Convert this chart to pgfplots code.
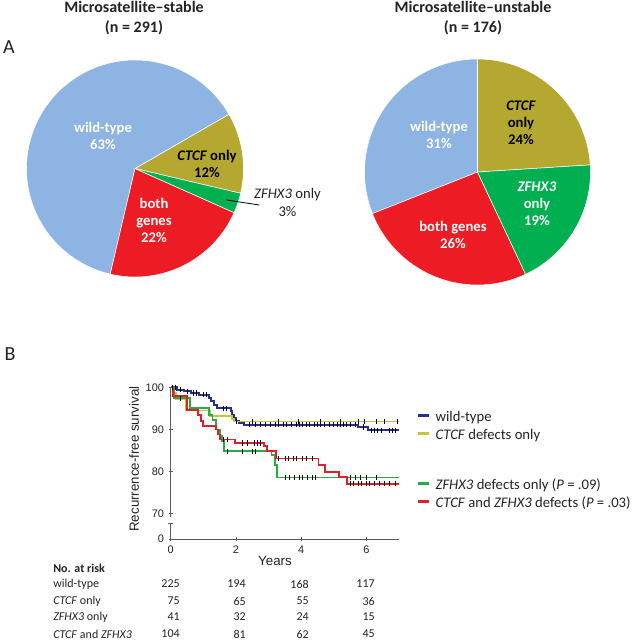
\documentclass[border=0pt]{standalone}
\usepackage{pgfplots}
\pgfplotsset{compat=1.18}
\usepackage{fontspec}
\setmainfont{Carlito}
\newfontfamily\arialf{Liberation Sans}
\definecolor{pieblue}{RGB}{141,180,226}
\definecolor{pieolive}{RGB}{181,168,48}
\definecolor{piegreen}{RGB}{0,176,80}
\definecolor{piered}{RGB}{237,28,36}
\definecolor{kmblue}{RGB}{38,48,140}
\definecolor{kmyellow}{RGB}{200,196,60}
\definecolor{kmgreen}{RGB}{40,170,70}
\definecolor{kmred}{RGB}{222,32,40}
\definecolor{axgray}{RGB}{90,90,90}
\definecolor{txt}{RGB}{35,35,35}
% slice: from pct, to pct, colour, start angle offset, radius
\newcommand{\slice}[5]{%
  \fill[#3, draw=white, line width=0.4pt] (axis cs:0,0) -- ++({#4+3.6*#1}:#5)
    arc[start angle={#4+3.6*#1}, end angle={#4+3.6*#2}, radius=#5] -- cycle;}
\begin{document}
\begin{tikzpicture}
% ---------------- Pie 1: microsatellite-stable ----------------
\begin{axis}[at={(101.25pt,-126.375pt)}, anchor=center, scale only axis,
  width=162.75pt, height=162.75pt, xmin=-1, xmax=1, ymin=-1, ymax=1,
  hide axis, clip=false]
% percentages: CTCF only 12, wild-type 63, both genes 22, ZFHX3 only 3
\slice{0}{12}{pieolive}{-13.2}{81.375pt}
\slice{12}{75}{pieblue}{-13.2}{81.375pt}
\slice{75}{97}{piered}{-13.2}{81.375pt}
\slice{97}{100}{piegreen}{-13.2}{81.375pt}
\end{axis}
% ---------------- Pie 2: microsatellite-unstable ----------------
\begin{axis}[at={(358.125pt,-129pt)}, anchor=center, scale only axis,
  width=169.5pt, height=169.5pt, xmin=-1, xmax=1, ymin=-1, ymax=1,
  hide axis, clip=false]
% percentages: CTCF only 24, wild-type 31, both genes 26, ZFHX3 only 19
\slice{0}{24}{pieolive}{3.6}{84.75pt}
\slice{24}{55}{pieblue}{3.6}{84.75pt}
\slice{55}{81}{piered}{3.6}{84.75pt}
\slice{81}{100}{piegreen}{3.6}{84.75pt}
\end{axis}
% ---------------- Kaplan-Meier ----------------
\begin{axis}[at={(128.025pt,-404.25pt)}, anchor=south west, scale only axis,
  width=171.225pt, height=113.775pt,
  xmin=0, xmax=7, ymin=64, ymax=100,
  axis lines*=left, axis line style={-, axgray, line width=0.6pt},
  y axis line style={draw=none},
  xtick={0,2,4,6}, ytick={64,70,80,90,100}, yticklabels={0,70,80,90,100},
  tick align=center, major tick length=3pt, tick style={axgray, line width=0.6pt},
  /pgf/number format/assume math mode=true,
  tick label style={font=\arialf\fontsize{8.2}{10}\selectfont, text=txt},
  xlabel={Years}, ylabel={Recurrence-free survival},
  label style={font=\arialf\fontsize{10}{12}\selectfont, text=txt},
  xlabel style={at={(axis description cs:0.457,0)}, anchor=center, yshift=-16.5pt},
  ylabel style={at={(axis description cs:-0.16,0.527)}, anchor=center},
  clip=false,
  legend style={at={(1.0788,0.855)}, anchor=north west, draw=none, fill=none,
    inner sep=0pt, outer sep=0pt, row sep=0pt, column sep=3.75pt,
    nodes={inner sep=0pt, text height=9pt, text depth=4.5pt},
    font=\fontsize{11}{13}\selectfont, text=txt},
  legend cell align=left,
  legend image code/.code={\draw[#1, line width=2pt] (0pt,2.25pt) -- (8.25pt,2.25pt);},
]
\addplot[const plot, kmblue, line width=1.4pt] coordinates {
(0,100) (0.2,99.45) (0.41,99.05) (0.61,98.65) (0.87,98.25) (1.18,97.5) (1.23,96.7)
(1.33,95.9) (1.43,95.0) (1.84,94.3) (1.89,93.5) (1.94,92.7) (1.99,92.1) (2.1,91.6)
(2.25,91.1) (5.75,90.6) (6.05,89.8) (7,89.8)};
\addlegendentry{wild-type}
\addplot[const plot, kmyellow, line width=1.4pt] coordinates {
(0,100) (0.1,98.6) (0.15,97.3) (0.47,94.5) (1.2,93.1) (1.88,92.5) (1.95,91.9) (7,91.9)};
\addlegendentry{\textit{CTCF} defects only}
\addlegendimage{empty legend}
\addlegendentry[text height=12pt, text depth=12pt]{}
\addplot[const plot, kmgreen, line width=1.4pt] coordinates {
(0,100) (0.1,97.5) (0.6,95.0) (1.18,93.5) (1.28,92.3) (1.38,90.0) (1.52,88.4)
(1.58,87.2) (1.64,84.8) (3.09,84.0) (3.2,81.6) (3.25,78.6) (7,78.6)};
\addlegendentry{\textit{ZFHX3} defects only (\textit{P} = .09)}
\addplot[const plot, kmred, line width=1.4pt] coordinates {
(0,100) (0.08,98.0) (0.5,94.7) (0.85,93.5) (0.92,92.0) (1.0,90.8) (1.38,90.0)
(1.45,88.8) (1.5,87.6) (1.97,86.8) (2.85,86.0) (2.95,84.9) (3.22,83.1) (4.53,81.6)
(4.74,80.0) (5.17,78.7) (5.4,77.1) (7,77.1)};
\addlegendentry{\textit{CTCF} and \textit{ZFHX3} defects (\textit{P} = .03)}
% censoring marks
\addplot[only marks, mark=|, mark size=2pt, black, line width=0.5pt, forget plot] coordinates {
(0.05,100) (0.15,100) (0.3,99.45) (0.5,99.05) (0.7,98.65) (0.8,98.65) (1.0,98.25) (1.1,98.25)
(1.6,95.0) (1.7,95.0) (2.4,91.1) (2.6,91.1) (2.75,91.1) (2.9,91.1) (3.05,91.1) (3.2,91.1)
(3.3,91.1) (3.45,91.1) (3.55,91.1) (3.7,91.1) (3.85,91.1) (3.95,91.1) (4.05,91.1) (4.15,91.1)
(4.25,91.1) (4.4,91.1) (4.5,91.1) (4.6,91.1) (4.7,91.1) (4.85,91.1) (5.0,91.1) (5.1,91.1)
(5.2,91.1) (5.3,91.1) (5.4,91.1) (5.5,91.1) (5.65,91.1) (5.9,90.6) (6.15,89.8) (6.25,89.8)
(6.35,89.8) (6.45,89.8) (6.7,89.8) (6.8,89.8) (6.9,89.8)};
\addplot[only marks, mark=|, mark size=2pt, black, line width=0.5pt, forget plot] coordinates {
(0.3,97.3) (2.0,91.9) (2.5,91.9) (3.3,91.9) (3.9,91.9) (4.6,91.9) (5.2,91.9) (5.75,91.9)
(5.95,91.9) (6.3,91.9) (6.55,91.9) (6.95,91.9)};
\addplot[only marks, mark=|, mark size=2pt, black, line width=0.5pt, forget plot] coordinates {
(1.75,84.8) (2.2,84.8) (2.5,84.8) (2.6,84.8) (3.5,78.6) (3.65,78.6) (3.8,78.6) (3.95,78.6)
(4.05,78.6) (4.2,78.6) (4.35,78.6) (4.45,78.6) (5.5,78.6) (5.65,78.6) (5.8,78.6) (6.0,78.6) (6.3,78.6)};
\addplot[only marks, mark=|, mark size=2pt, black, line width=0.5pt, forget plot] coordinates {
(1.6,87.6) (1.75,87.6) (2.2,86.8) (2.35,86.8) (2.55,86.8) (2.65,86.8) (2.75,86.8)
(3.3,83.1) (3.5,83.1) (3.6,83.1) (3.75,83.1) (3.85,83.1) (4.05,83.1) (4.15,83.1) (4.35,83.1)
(5.5,77.1) (5.6,77.1) (5.75,77.1) (5.85,77.1) (6.0,77.1) (6.1,77.1) (6.25,77.1) (6.4,77.1)
(6.55,77.1) (6.7,77.1) (6.9,77.1)};
% broken y axis
\draw[axgray, line width=0.6pt] (axis cs:0,100) -- (axis cs:0,69.3);
\draw[axgray, line width=0.6pt] (axis cs:0,67.6) -- (axis cs:0,64);
\draw[axgray, line width=0.6pt] ([xshift=-2pt]axis cs:0,67.6) -- ([xshift=2pt]axis cs:0,67.6);
\end{axis}
% ---------------- Text (pixel coordinates) ----------------
\begin{scope}[x=0.75pt, y=-0.75pt]
\node[font=\bfseries\fontsize{12}{15}\selectfont, align=center, text=txt] at (134,18) {Microsatellite--stable\\(n = 291)};
\node[font=\bfseries\fontsize{12}{15}\selectfont, align=center, text=txt] at (473,18) {Microsatellite--unstable\\(n = 176)};
\node[font=\fontsize{15}{18}\selectfont, text=txt] at (9,47) {A};
\node[font=\fontsize{15}{18}\selectfont, text=txt] at (10,354) {B};
% pie labels
\begin{scope}[every node/.style={font=\bfseries\fontsize{11}{12.75}\selectfont, align=center}]
\node[white] at (103,135.5) {wild-type\\63\%};
\node[black] at (207,164) {\textit{CTCF} only\\12\%};
\node[white] at (154,220) {both\\genes\\22\%};
\node[white] at (439,135) {wild-type\\31\%};
\node[black] at (521,123) {\textit{CTCF}\\only\\24\%};
\node[white] at (537,204) {\textit{ZFHX3}\\only\\19\%};
\node[white] at (453,235) {both genes\\26\%};
\end{scope}
\node[font=\fontsize{11}{13}\selectfont, align=center, text=txt] at (287.5,202.5) {\textit{ZFHX3} only\\3\%};
\draw[black, line width=0.6pt] (226.7,200) -- (259.3,205);
% risk table
\begin{scope}[every node/.style={font=\fontsize{9}{11}\selectfont, text=txt, inner sep=0pt}]
\node[anchor=west, font=\bfseries\fontsize{9}{11}\selectfont] at (53,568) {No. at risk};
\node[anchor=west] at (53,584) {wild-type};
\node[anchor=west] at (53,601) {\textit{CTCF} only};
\node[anchor=west] at (53,617) {\textit{ZFHX3} only};
\node[anchor=west] at (53,634) {\textit{CTCF} and \textit{ZFHX3}};
\node[anchor=east] at (180,584) {225};
\node[anchor=east] at (246,584) {194};
\node[anchor=east] at (309,584) {168};
\node[anchor=east] at (375,584) {117};
\node[anchor=east] at (180,601) {75};
\node[anchor=east] at (246,601) {65};
\node[anchor=east] at (309,601) {55};
\node[anchor=east] at (375,601) {36};
\node[anchor=east] at (180,617) {41};
\node[anchor=east] at (246,617) {32};
\node[anchor=east] at (309,617) {24};
\node[anchor=east] at (375,617) {15};
\node[anchor=east] at (180,634) {104};
\node[anchor=east] at (246,634) {81};
\node[anchor=east] at (309,634) {62};
\node[anchor=east] at (375,634) {45};
\end{scope}
\pgfresetboundingbox
\path[use as bounding box] (0,0) rectangle (634,640);
\end{scope}
\end{tikzpicture}
\end{document}
